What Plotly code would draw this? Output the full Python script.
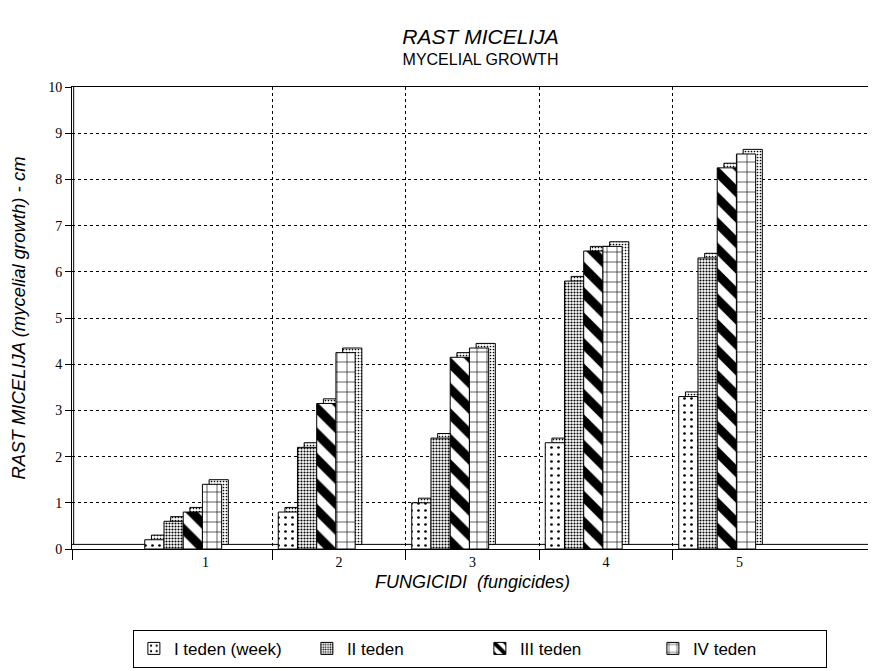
import plotly.graph_objects as go

categories = [1, 2, 3, 4, 5]
category_labels = ["1", "2", "3", "4", "5"]
series_names = ["I teden (week)", "II teden", "III teden", "IV teden"]
week1 = [0.2, 0.8, 1.0, 2.3, 3.3]
week2 = [0.6, 2.2, 2.4, 5.8, 6.3]
week3 = [0.8, 3.15, 4.15, 6.45, 8.25]
week4 = [1.4, 4.25, 4.35, 6.55, 8.55]
y_ticks = list(range(0, 11))
boundaries = [0, 1.5, 2.5, 3.5, 4.5, 6]

series_values = [week1, week2, week3, week4]
patterns = [
    dict(shape=".", size=7, solidity=0.12, fgcolor="black", bgcolor="white", fgopacity=1),
    dict(shape=".", size=3, solidity=0.4, fgcolor="black", bgcolor="white", fgopacity=1),
    dict(shape="\\", size=18, solidity=0.5, fgcolor="black", bgcolor="white", fgopacity=1),
    dict(shape="+", size=10, solidity=0.12, fgcolor="black", bgcolor="white", fgopacity=1),
]

bar_w = 0.144
start = -0.455
dx = 0.05
dy = 0.1

fig = go.Figure()
for k, (name, vals, pat) in enumerate(zip(series_names, series_values, patterns)):
    off = start + bar_w * k
    # depth (3D side/top face)
    fig.add_trace(go.Bar(
        x=categories, y=vals, base=dy, offset=off + dx, width=bar_w,
        marker=dict(color="white", line=dict(color="black", width=1),
                    pattern=dict(shape=".", size=3, solidity=0.25,
                                 fgcolor="black", bgcolor="white", fgopacity=1)),
        showlegend=False, hoverinfo="skip",
    ))
    fig.add_trace(go.Bar(
        x=categories, y=vals, offset=off, width=bar_w, name=name,
        marker=dict(color="white", line=dict(color="black", width=1),
                    pattern=pat),
    ))

fig.update_layout(
    width=868, height=663,
    barmode="overlay",
    paper_bgcolor="white", plot_bgcolor="white",
    margin=dict(l=64, r=3, t=79, b=122),
    font=dict(family="Liberation Sans", color="black", size=16),
    title=dict(
        text="<span style='font-size:21px'><i>RAST MICELIJA</i></span><br>MYCELIAL GROWTH",
        x=0.51, xref="paper", xanchor="center",
        y=0.946, yanchor="top",
        font=dict(family="Liberation Sans", size=16, color="black"),
    ),
    xaxis=dict(
        range=[0, 6], tickmode="array", tickvals=categories,
        ticktext=category_labels, ticks="", showgrid=False,
        showline=True, linecolor="black", linewidth=1, mirror=True,
        zeroline=False,
        tickfont=dict(family="Liberation Serif", size=14),
        title=dict(text="<i>FUNGICIDI  (fungicides)</i>", standoff=6,
                   font=dict(size=18)),
        minor=dict(tickmode="array", tickvals=boundaries, ticks="outside",
                   ticklen=10, tickcolor="black", showgrid=True,
                   gridcolor="black", griddash="dot", gridwidth=1),
    ),
    yaxis=dict(
        range=[0, 10], tickmode="array", tickvals=y_ticks,
        ticks="outside", ticklen=6, tickcolor="black",
        showline=True, linecolor="black", linewidth=1,
        showgrid=True, gridcolor="black", griddash="dot", gridwidth=1,
        zeroline=False,
        tickfont=dict(family="Liberation Serif", size=14),
        title=dict(text="<i>RAST MICELIJA (mycelial growth) - cm</i>",
                   standoff=18, font=dict(size=18.5)),
    ),
    legend=dict(
        orientation="h", x=0.076, xanchor="left", y=-0.175, yanchor="top",
        bordercolor="black", borderwidth=1, bgcolor="white",
        entrywidth=128, traceorder="normal",
        font=dict(family="Liberation Sans", size=17),
    ),
    shapes=[
        dict(type="line", xref="x", yref="y", x0=0, x1=6, y0=dy, y1=dy,
             line=dict(color="black", width=1), layer="below"),
        dict(type="line", xref="x", yref="y", x0=dx * 0.25, x1=dx * 0.25,
             y0=dy, y1=10, line=dict(color="black", width=1), layer="below"),
    ],
)

fig.write_html("out.html")
